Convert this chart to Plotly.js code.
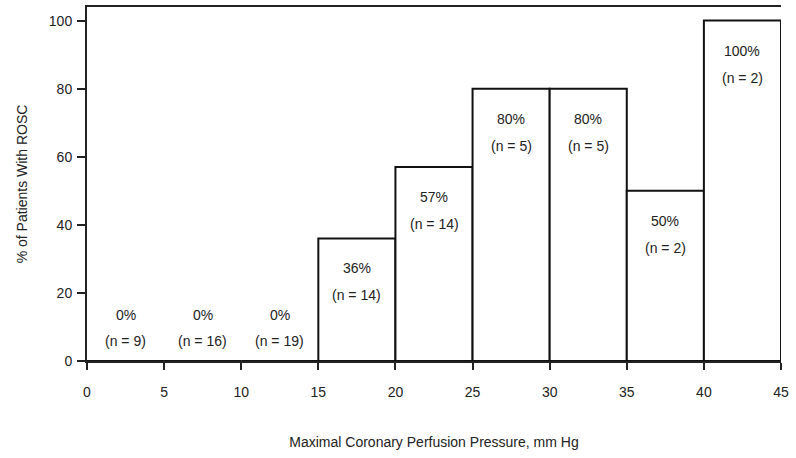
<!DOCTYPE html>
<html>
<head>
<meta charset="utf-8">
<script src="https://cdn.plot.ly/plotly-3.0.1.min.js"></script>
<style>html,body{margin:0;padding:0;background:#fff;}#chart{width:796px;height:458px;}</style>
</head>
<body>
<div id="chart"></div>
<script>
const binStart = [0, 5, 10, 15, 20, 25, 30, 35, 40];
const binWidth = 5;
const pctROSC = [0, 0, 0, 36, 57, 80, 80, 50, 100];
const nPatients = [9, 16, 19, 14, 14, 5, 5, 2, 2];
const xTicks = [0, 5, 10, 15, 20, 25, 30, 35, 40, 45];
const yTicks = [0, 20, 40, 60, 80, 100];

const centers = binStart.map(b => b + binWidth / 2);
const font = 'Liberation Sans, Arial, Helvetica, sans-serif';

const trace = {
  type: 'bar',
  x: centers,
  y: pctROSC,
  width: binWidth,
  marker: {color: '#ffffff', line: {color: '#111', width: 2}},
  hoverinfo: 'none'
};

const annotations = [];
pctROSC.forEach((v, i) => {
  const zero = v === 0;
  annotations.push({
    x: centers[i], y: v, xref: 'x', yref: 'y',
    text: v + '%', showarrow: false,
    yanchor: zero ? 'bottom' : 'top',
    yshift: zero ? 36 : -20,
    font: {family: font, size: 14, color: '#222'}
  });
  annotations.push({
    x: centers[i], y: v, xref: 'x', yref: 'y',
    text: '(n = ' + nPatients[i] + ')', showarrow: false,
    yanchor: zero ? 'bottom' : 'top',
    yshift: zero ? 10 : -47,
    font: {family: font, size: 14, color: '#222'}
  });
});

const layout = {
  width: 796, height: 458,
  margin: {l: 87, r: 15, t: 7, b: 97},
  paper_bgcolor: '#fff', plot_bgcolor: '#fff',
  showlegend: false,
  bargap: 0,
  font: {family: font, color: '#222'},
  xaxis: {
    range: [0, 45], tickvals: xTicks, ticktext: xTicks.map(String),
    showgrid: false, zeroline: false,
    showline: true, linecolor: '#222', linewidth: 2, mirror: true,
    ticks: 'outside', ticklen: 7, tickwidth: 2, tickcolor: '#222',
    ticklabelstandoff: 10,
    tickfont: {family: font, size: 14, color: '#222'},
    title: {text: 'Maximal Coronary Perfusion Pressure, mm Hg', standoff: 38,
            font: {family: font, size: 14, color: '#222'}}
  },
  yaxis: {
    range: [0, 104], tickvals: yTicks, ticktext: yTicks.map(String),
    showgrid: false, zeroline: false,
    showline: true, linecolor: '#222', linewidth: 2,
    ticks: 'outside', ticklen: 8, tickwidth: 2, tickcolor: '#222',
    ticklabelstandoff: 2,
    tickfont: {family: font, size: 14, color: '#222'},
    title: {text: '% of Patients With ROSC', standoff: 18,
            font: {family: font, size: 14, color: '#222'}}
  },
  annotations: annotations
};

Plotly.newPlot('chart', [trace], layout, {staticPlot: true, displayModeBar: false});
</script>
</body>
</html>
